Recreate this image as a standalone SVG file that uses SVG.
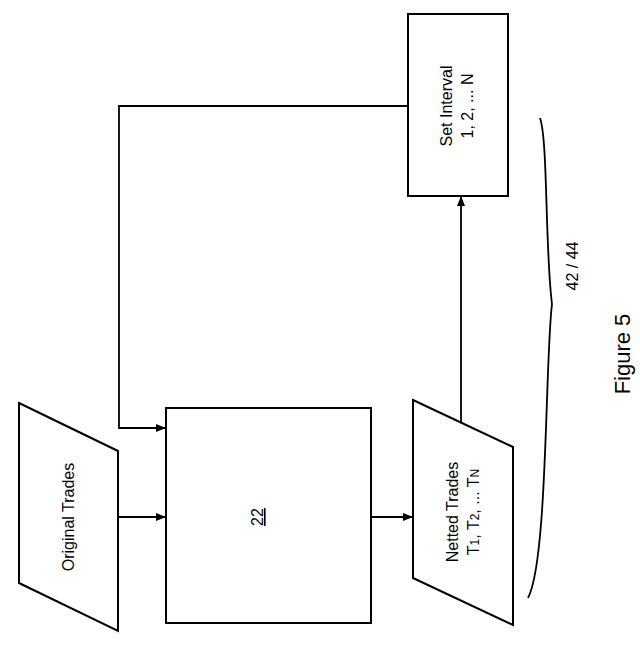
<svg xmlns="http://www.w3.org/2000/svg" width="640" height="652" viewBox="0 0 640 652">
<style>
.s{fill:#fff;stroke:#000;stroke-width:2}
.l{fill:none;stroke:#000;stroke-width:1.8}
text{font-family:"Liberation Sans",Arial,sans-serif;font-size:16px;fill:#000;text-anchor:middle}
.sub{font-size:12px}
</style>
<defs><marker id="a" markerWidth="10" markerHeight="8" refX="9" refY="4" orient="auto" markerUnits="userSpaceOnUse"><path d="M0,0L10,4L0,8z"/></marker></defs>
<rect width="640" height="652" fill="#fff"/>
<g id="connectors">
<path class="l" d="M118,517H165" marker-end="url(#a)"/>
<path class="l" d="M408,106H119V428H165" marker-end="url(#a)"/>
<path class="l" d="M371,517H412" marker-end="url(#a)"/>
<path class="l" d="M461,423V197" marker-end="url(#a)"/>
</g>
<g id="original"><polygon class="s" points="19,403 118,451 118,631 19,583"/><text transform="translate(74,517) rotate(-90)">Original Trades</text></g>
<g id="n22"><rect class="s" x="166" y="408" width="205" height="215"/><text transform="translate(263,517) rotate(-90)" text-decoration="underline">22</text></g>
<g id="netted"><polygon class="s" points="413,400 513,447 513,625 413,578"/><text transform="translate(458,512) rotate(-90)">Netted Trades</text><text transform="translate(479,512) rotate(-90)">T<tspan class="sub">1</tspan>, T<tspan class="sub">2</tspan>, ... T<tspan class="sub">N</tspan></text></g>
<g id="interval"><rect class="s" x="408" y="14" width="100" height="182"/><text transform="translate(452,106) rotate(-90)">Set Interval</text><text transform="translate(473,106) rotate(-90)">1, 2, ... N</text></g>
<g id="brace"><path class="l" d="M540,118C548,140 545,250 552,304C545,360 548,560 528,598"/><text transform="translate(578,266) rotate(-90)">42 / 44</text></g>
<text transform="translate(630,354) rotate(-90)" style="font-size:22px">Figure 5</text>
</svg>
